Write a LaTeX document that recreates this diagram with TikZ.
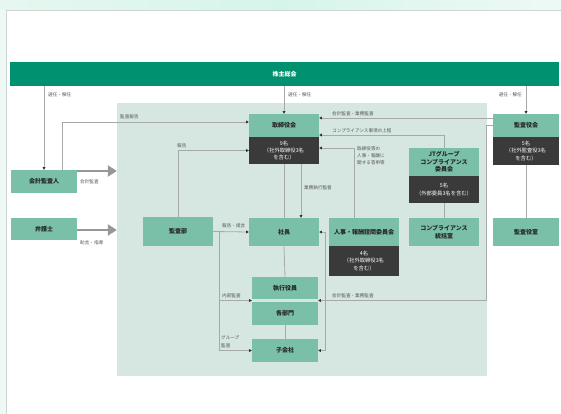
\documentclass[tikz,border=0pt]{standalone}
\usepackage{fontspec}
\newfontfamily\jp{Noto Sans CJK JP}
\usetikzlibrary{arrows.meta,calc}
\definecolor{bandc}{RGB}{0,146,112}
\definecolor{boxg}{RGB}{122,192,168}
\definecolor{darkc}{RGB}{58,58,58}
\definecolor{panelc}{RGB}{214,231,225}
\definecolor{linec}{RGB}{165,170,168}
\definecolor{lblc}{RGB}{85,85,85}
\definecolor{bigc}{RGB}{150,152,151}
\definecolor{pagebg}{RGB}{238,249,245}
\definecolor{mintA}{RGB}{230,247,240}
\definecolor{mintB}{RGB}{214,245,234}
\definecolor{framec}{RGB}{205,214,211}
\begin{document}
\begin{tikzpicture}[x=1pt,y=-1pt,
  box/.style={fill=boxg, minimum width=70pt, inner sep=0pt, align=center,
    font=\jp\bfseries\fontsize{6}{7.5}\selectfont, text=black!85},
  darkbox/.style={fill=darkc, minimum width=70pt, inner sep=0pt, align=center,
    font=\jp\fontsize{5.3}{7.3}\selectfont, text=white},
  lbl/.style={font=\jp\fontsize{4.6}{7.2}\selectfont, text=lblc, inner sep=0pt, align=left},
  con/.style={draw=linec, line width=0.8pt},
  arr/.style={con, -{Triangle[length=2.6pt,width=2.8pt,color=black!80]}},
  big/.style={draw=bigc, line width=2.6pt, -{Triangle[length=9pt,width=11pt]}}]
\useasboundingbox (0,0) rectangle (561,414);
% page background
\fill[pagebg] (0,0) rectangle (561,414);
\shade[left color=mintA, right color=pagebg, middle color=mintB] (0,0) rectangle (561,10);
\fill[white] (6.5,10) rectangle (561,414);
\draw[framec, line width=0.6pt] (6.5,414) -- (6.5,10) -- (561,10);
% band
\node[fill=bandc, minimum width=549pt, minimum height=24pt, inner sep=0pt,
  font=\jp\bfseries\fontsize{6}{7}\selectfont, text=white] (soukai) at (284.5,74) {株主総会};
% panel
\node[fill=panelc, minimum width=370pt, minimum height=273pt, inner sep=0pt] (panel) at (302,239.5) {};
% boxes
\node[box, minimum width=66pt, minimum height=23pt] (kaikei) at (44,181.5) {会計監査人};
\node[box, minimum width=66pt, minimum height=22pt] (bengo) at (44,229) {弁護士};
\node[box, minimum height=29pt] (kansabu) at (178,231.5) {監査部};
\node[box, minimum height=28pt] (shacho) at (284,232) {社長};
\node[box, minimum height=23pt] (bod) at (284,125.5) {取締役会};
\node[darkbox, minimum height=27pt] (bodd) at (284,150.5) {9名\\（社外取締役3名\\を含む）};
\node[box, minimum height=28pt] (jinji) at (364,232) {人事・報酬諮問委員会};
\node[darkbox, minimum height=30pt] (jinjid) at (364,261) {4名\\（社外取締役3名\\を含む）};
\node[box, minimum height=28pt] (jt) at (444,162) {JTグループ\\コンプライアンス\\委員会};
\node[darkbox, minimum height=27pt] (jtd) at (444,189.5) {5名\\（外部委員3名を含む）};
\node[box, minimum height=28pt] (comp) at (444,232) {コンプライアンス\\統括室};
\node[box, minimum width=66pt, minimum height=23pt] (kyk) at (526,125.5) {監査役会};
\node[darkbox, minimum width=66pt, minimum height=28pt] (kykd) at (526,151) {5名\\（社外監査役3名\\を含む）};
\node[box, minimum width=66pt, minimum height=28pt] (kys) at (526,232) {監査役室};
\node[box, minimum width=66pt, minimum height=22pt] (shikkou) at (285,288) {執行役員};
\node[box, minimum width=66pt, minimum height=23pt] (bumon) at (285,313.5) {各部門};
\node[box, minimum width=66pt, minimum height=23pt] (kogaisha) at (285,350.5) {子会社};
% helper coordinates
\coordinate (gapL) at ($(shikkou.south west)!0.5!(bumon.north west)$);
\coordinate (gapR) at ($(shikkou.south east)!0.5!(bumon.north east)$);
\coordinate (lv) at ([xshift=6pt]kansabu.east);
\coordinate (rv) at ([xshift=6pt]shacho.east);
\coordinate (cv) at ([xshift=-6pt]kyk.west);
% election arrows
\draw[arr] (soukai.south -| kaikei.north) -- (kaikei.north);
\draw[arr] (soukai.south -| bod.north) -- (bod.north);
\draw[arr] (soukai.south -| kyk.north) -- (kyk.north);
\node[lbl, anchor=west] (l1) at (48,95) {選任・解任};
\node[lbl, anchor=west] (l2) at (288,95) {選任・解任};
\node[lbl, anchor=east] (l3) at (522,95) {選任・解任};
% audit report
\draw[arr] ([xshift=18pt]kaikei.north) |- ([yshift=3.5pt]bod.west);
\node[lbl, anchor=west] (l4) at (120,117) {監査報告};
% big arrows
\draw[big] ([yshift=10.5pt]kaikei.east) -- ([yshift=10.5pt]kaikei.east -| panel.west);
\node[lbl, anchor=west] (l5) at (80,182) {会計監査};
\draw[big] ([yshift=-1pt]bengo.east) -- ([yshift=-1pt]bengo.east -| panel.west);
\node[lbl, anchor=west] (l6) at (80,243) {助言・指導};
% internal audit report
\draw[arr] (kansabu.north) |- (bodd.west);
\node[lbl, anchor=west] (l7) at (177,145.5) {報告};
% board to president
\draw[con] (bodd.south) -- (shacho.north);
\draw[arr] ([xshift=17pt]bodd.south) -- ([xshift=17pt]shacho.north);
\node[lbl, anchor=west] (l8) at (304,188) {業務執行監督};
% auditors to board
\draw[arr] ([yshift=7.5pt]kyk.west) -- ([yshift=7.5pt]bod.east);
\node[lbl, anchor=west] (l9) at (332,114) {会計監査・業務監査};
\draw[arr] (jt.north) |- ([yshift=-9.5pt]bod.east);
\node[lbl, anchor=west] (l10) at (332,130.5) {コンプライアンス事項の上程};
\draw[arr] ([xshift=-10pt]jinji.north) |- ([yshift=2.5pt]bodd.east);
\node[lbl, anchor=north west] (l11) at (357,146.5) {取締役等の\\人事・報酬に\\関する答申等};
% plain links
\draw[con] (jtd.south) -- (comp.north);
\draw[con] (kykd.south) -- (kys.north);
\draw[con] (shacho.south) -- (shikkou.north);
\draw[con] (bumon.south) -- (kogaisha.north);
% audit dept
\draw[arr] (kansabu.east) -- (shacho.west);
\node[lbl, anchor=west] (l12) at (222,225.5) {報告・提言};
\draw[con] (kansabu.east) -- (lv) -- (lv |- kogaisha.west);
\draw[arr] (lv |- gapL) -- (gapL);
\draw[arr] (lv |- kogaisha.west) -- (kogaisha.west);
\node[lbl, anchor=west] (l13) at (222,296) {内部監査};
\node[lbl, anchor=south west] (l14) at (221,347.5) {グループ\\監査};
% auditors to executives
\draw[con] (rv) -- (rv |- kogaisha.east);
\draw[arr] (rv) -- (shacho.east);
\draw[arr] (rv |- kogaisha.east) -- (kogaisha.east);
\draw[arr] (kyk.west) -- (cv) |- (gapR);
\node[lbl, anchor=west] (l15) at (332,296) {会計監査・業務監査};
\end{tikzpicture}
\end{document}
